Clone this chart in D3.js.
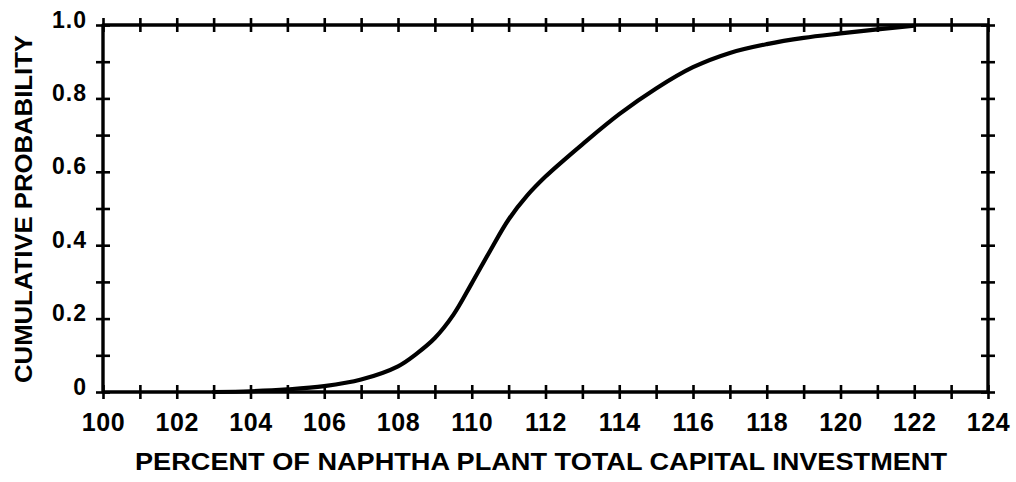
<!DOCTYPE html>
<html>
<head>
<meta charset="utf-8">
<script src="https://cdn.jsdelivr.net/npm/d3@7"></script>
<style>
  html, body { margin: 0; padding: 0; background: #fff; }
  svg { display: block; }
  text { font-family: "Liberation Sans", Arial, Helvetica, sans-serif; font-weight: bold; fill: #000; }
</style>
</head>
<body>
<svg id="chart" width="1016" height="482"></svg>
<script>
// Cumulative probability of the naphtha plant total capital investment
const investmentPct = [103, 104, 105, 106, 107, 108, 108.5, 109, 109.5, 110, 110.5, 111, 111.5, 112, 112.5, 113, 114, 115, 116, 117, 118, 119, 120, 121, 122];
const cumulativeProb = [0, 0.002, 0.007, 0.016, 0.034, 0.07, 0.104, 0.147, 0.21, 0.296, 0.385, 0.47, 0.535, 0.587, 0.632, 0.675, 0.757, 0.827, 0.885, 0.924, 0.948, 0.965, 0.977, 0.988, 0.998];

const xTickLabels = [100, 102, 104, 106, 108, 110, 112, 114, 116, 118, 120, 122, 124];
const yTickLabels = [0, 0.2, 0.4, 0.6, 0.8, 1.0];
const xMinorTicks = d3.range(100, 125, 1);
const yMinorTicks = d3.range(0, 11, 1).map(d => d / 10);

const xTitle = "PERCENT OF NAPHTHA PLANT TOTAL CAPITAL INVESTMENT";
const yTitle = "CUMULATIVE PROBABILITY";

const plotLeft = 103, plotRight = 988, plotTop = 25, plotBottom = 392;

const svg = d3.select("#chart");
const x = d3.scaleLinear().domain([100, 124]).range([plotLeft, plotRight]);
const y = d3.scaleLinear().domain([0, 1]).range([plotBottom, plotTop]);

// tick marks that cross each side of the frame
const tickLen = 7;
function crossTicks(axisGen, translate) {
  const g = svg.append("g").attr("transform", translate).call(axisGen);
  g.select(".domain").remove();
  g.selectAll(".tick line").attr("stroke", "#000").attr("stroke-width", 2.6);
  g.selectAll(".tick text").remove();
  return g;
}
crossTicks(d3.axisBottom(x).tickValues(xMinorTicks).tickSize(tickLen * 2), `translate(0,${plotBottom - tickLen})`);
crossTicks(d3.axisBottom(x).tickValues(xMinorTicks).tickSize(tickLen * 2), `translate(0,${plotTop - tickLen})`);
crossTicks(d3.axisRight(y).tickValues(yMinorTicks).tickSize(tickLen * 2), `translate(${plotLeft - tickLen},0)`);
crossTicks(d3.axisRight(y).tickValues(yMinorTicks).tickSize(tickLen * 2), `translate(${plotRight - tickLen},0)`);

// frame
svg.append("rect")
  .attr("x", x(100)).attr("y", y(1))
  .attr("width", x(124) - x(100)).attr("height", y(0) - y(1))
  .attr("fill", "none").attr("stroke", "#000").attr("stroke-width", 3.4)
  .attr("stroke-linejoin", "round");

// tick labels
const xLab = svg.append("g").attr("transform", `translate(0,${plotBottom})`)
  .call(d3.axisBottom(x).tickValues(xTickLabels).tickSize(0).tickPadding(0).tickFormat(d3.format("d")));
xLab.select(".domain").remove();
xLab.selectAll(".tick text")
  .attr("y", 39).attr("dy", null)
  .attr("font-size", 25).attr("letter-spacing", 0.6)
  .attr("font-family", "Liberation Sans, Arial, sans-serif").attr("font-weight", "bold").attr("fill", "#000");

const yLab = svg.append("g").attr("transform", `translate(${plotLeft},0)`)
  .call(d3.axisLeft(y).tickValues(yTickLabels).tickSize(0).tickPadding(0)
    .tickFormat(d => d === 0 ? "0" : d3.format(".1f")(d)));
yLab.select(".domain").remove();
yLab.selectAll(".tick text")
  .attr("x", -16).attr("dy", null).attr("y", 2)
  .attr("font-size", 23).attr("letter-spacing", 1)
  .attr("font-family", "Liberation Sans, Arial, sans-serif").attr("font-weight", "bold").attr("fill", "#000");

// axis titles
svg.append("text")
  .attr("x", 541).attr("y", 470)
  .attr("text-anchor", "middle")
  .attr("font-size", 24)
  .attr("textLength", 812).attr("lengthAdjust", "spacingAndGlyphs")
  .text(xTitle);

svg.append("text")
  .attr("transform", "translate(32,209) rotate(-90)")
  .attr("text-anchor", "middle")
  .attr("font-size", 24)
  .attr("textLength", 348).attr("lengthAdjust", "spacingAndGlyphs")
  .text(yTitle);

// cumulative distribution curve
const line = d3.line()
  .x((d, i) => x(investmentPct[i]))
  .y(d => y(d))
  .curve(d3.curveCatmullRom.alpha(0.5));

svg.append("path")
  .datum(cumulativeProb)
  .attr("d", line)
  .attr("fill", "none")
  .attr("stroke", "#000")
  .attr("stroke-width", 4.2)
  .attr("stroke-linecap", "round")
  .attr("stroke-linejoin", "round");
</script>
</body>
</html>
